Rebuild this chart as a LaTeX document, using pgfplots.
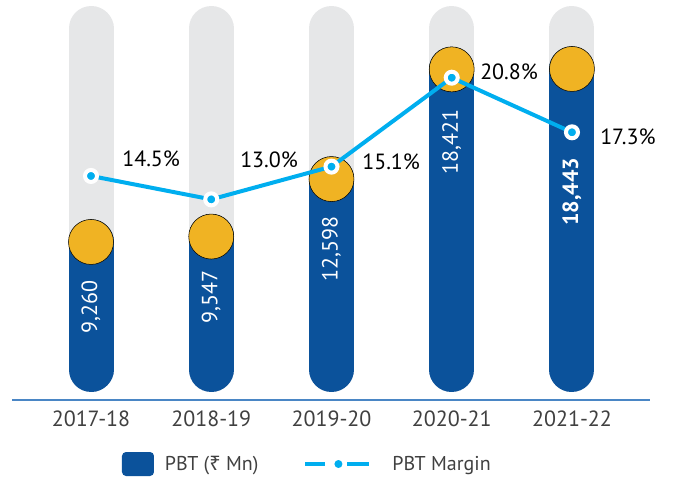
\documentclass[border=0pt]{standalone}
\usepackage{fontspec}
\setmainfont{PT Sans}
\newfontfamily\rupeefont{Noto Sans}
\usepackage{pgfplots}
\pgfplotsset{compat=1.18}
\definecolor{pbtblue}{RGB}{11,82,155}
\definecolor{pbtgold}{RGB}{240,179,35}
\definecolor{pbtgrey}{RGB}{230,231,232}
\definecolor{pbtcyan}{RGB}{0,174,239}
\definecolor{axisblue}{RGB}{74,134,197}
\definecolor{labelgrey}{RGB}{64,64,64}
\newcommand{\lblfont}{\fontsize{16.5}{18}\selectfont}
\newcommand{\legfont}{\fontsize{15}{17}\selectfont}
\begin{document}
\begin{tikzpicture}
\path[use as bounding box] (0,0) rectangle (505.5pt,359.25pt);
\begin{axis}[
  at={(9pt,59.25pt)}, anchor=south west,
  scale only axis, width=478.5pt, height=300pt,
  xmin=-0.657, xmax=4.649, ymin=870.5, ymax=22103,
  axis x line*=bottom, axis y line=none,
  x axis line style={-, draw=axisblue, line width=1.1pt},
  xtick={0,1,2,3,4}, xticklabels={2017-18,2018-19,2019-20,2020-21,2021-22},
  ytick=\empty,
  major tick length=0pt,
  xticklabel style={anchor=base, yshift=-19.5pt, text=labelgrey, font=\lblfont, inner sep=0pt},
  clip=false,
  legend columns=2,
  legend cell align=left,
  legend style={at={(0.1724,-0.16)}, anchor=west, draw=none, fill=none,
    inner sep=0pt, outer sep=0pt, font=\legfont, text=labelgrey,
    nodes={inner sep=0pt},
    /tikz/column 1/.style={column sep=8.25pt},
    /tikz/column 2/.style={column sep=33.75pt},
    /tikz/column 3/.style={column sep=15.75pt}},
]
% legend images
\addlegendimage{legend image code/.code={\fill[pbtblue, draw=none, rounded corners=3pt] (0pt,-9pt) rectangle (24pt,9pt);}}
\addlegendentry{PBT ({\rupeefont ₹} Mn)}
\addlegendimage{legend image code/.code={\draw[pbtcyan, line width=3pt] (0pt,0pt)--(15pt,0pt) (31.5pt,0pt)--(48pt,0pt); \fill[pbtcyan, draw=none] (24.75pt,0pt) circle (3pt);}}
\addlegendentry{PBT Margin}
% grey background pills
\addplot[forget plot, draw=pbtgrey, line width=33.75pt, line cap=round, unbounded coords=jump]
  coordinates {(0,2490) (0,20590) (0,nan) (1,2490) (1,20590) (1,nan) (2,2490) (2,20590) (2,nan) (3,2490) (3,20590) (3,nan) (4,2490) (4,20590)};
% blue bars
\addplot[forget plot, draw=pbtblue, line width=33.75pt, line cap=round, unbounded coords=jump]
  coordinates {(0,2490) (0,9260) (0,nan) (1,2490) (1,9547) (1,nan) (2,2490) (2,12598) (2,nan) (3,2490) (3,18421) (3,nan) (4,2490) (4,18443)};
% gold caps
\addplot[forget plot, only marks, mark=*, mark size=16.875pt, mark options={fill=pbtgold, draw=none}]
  coordinates {(0,9260) (1,9547) (2,12598) (3,18421) (4,18443)};
% value labels
\node[rotate=90, text=white, font=\lblfont, inner sep=0pt] at (axis cs:0,5807) {9,260};
\node[rotate=90, text=white, font=\lblfont, inner sep=0pt] at (axis cs:1,6338) {9,547};
\node[rotate=90, text=white, font=\lblfont, inner sep=0pt] at (axis cs:2,8886) {12,598};
\node[rotate=90, text=white, font=\lblfont, inner sep=0pt] at (axis cs:3,14573) {18,421};
\node[rotate=90, text=white, font=\lblfont\bfseries, inner sep=0pt] at (axis cs:4,11919) {18,443};
\end{axis}
\begin{axis}[
  at={(9pt,59.25pt)}, anchor=south west,
  scale only axis, width=478.5pt, height=300pt,
  xmin=-0.657, xmax=4.649, ymin=0.141, ymax=25.78,
  axis lines=none, clip=false,
]
\addplot[pbtcyan, line width=3pt, mark=*, mark size=4.5pt, mark options={fill=pbtcyan, draw=white, line width=3pt, solid}]
  coordinates {(0,14.5) (1,13.0) (2,15.1) (3,20.8) (4,17.3)};
\node[anchor=west, inner sep=0pt, font=\lblfont] at (axis cs:0.258,15.59) {14.5\%};
\node[anchor=west, inner sep=0pt, font=\lblfont] at (axis cs:1.239,15.53) {13.0\%};
\node[anchor=west, inner sep=0pt, font=\lblfont] at (axis cs:2.254,15.40) {15.1\%};
\node[anchor=west, inner sep=0pt, font=\lblfont] at (axis cs:3.235,21.17) {20.8\%};
\node[anchor=west, inner sep=0pt, font=\lblfont] at (axis cs:4.233,17.00) {17.3\%};
\end{axis}
\end{tikzpicture}
\end{document}
